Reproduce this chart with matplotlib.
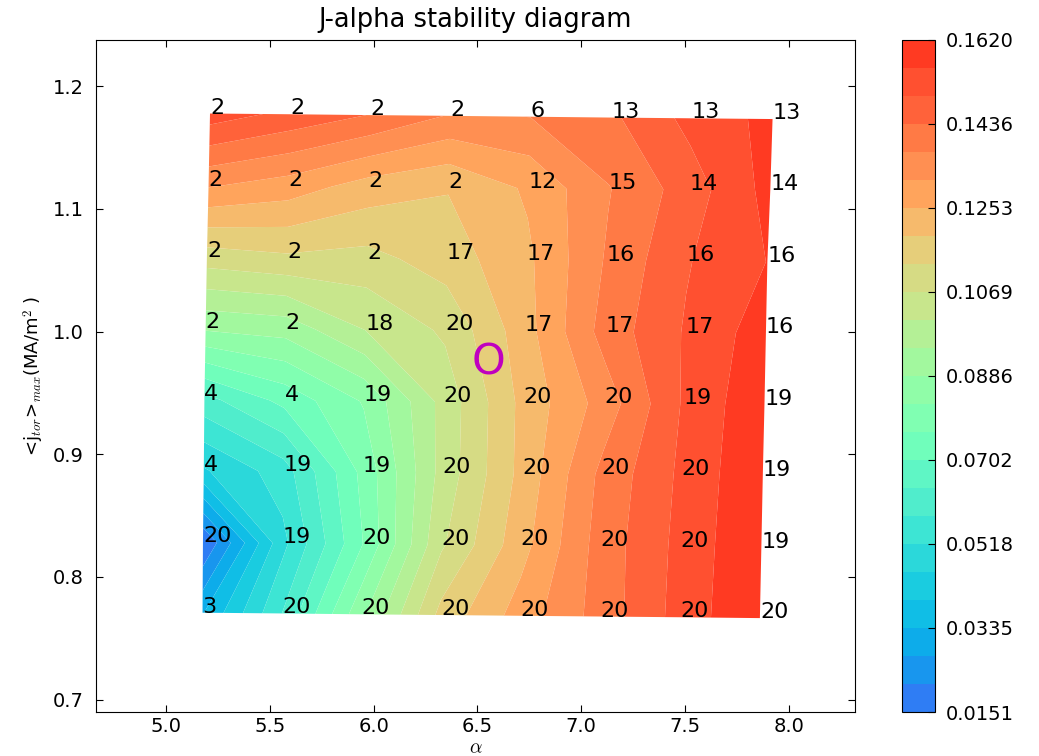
import numpy as np
import matplotlib
matplotlib.use("Agg")
import matplotlib.pyplot as plt
from matplotlib.colors import ListedColormap

# ---------------------------------------------------------
# data (8 x 8 scan, rows top -> bottom)
# ---------------------------------------------------------
alpha_grid = [
    [5.212, 5.599, 5.985, 6.370, 6.755, 7.145, 7.530, 7.921],
    [5.205, 5.590, 5.975, 6.360, 6.745, 7.133, 7.520, 7.910],
    [5.197, 5.583, 5.968, 6.353, 6.738, 7.123, 7.508, 7.896],
    [5.191, 5.576, 5.961, 6.346, 6.728, 7.116, 7.501, 7.889],
    [5.185, 5.571, 5.953, 6.338, 6.721, 7.109, 7.494, 7.882],
    [5.182, 5.565, 5.948, 6.331, 6.714, 7.099, 7.484, 7.874],
    [5.178, 5.561, 5.944, 6.326, 6.709, 7.092, 7.477, 7.867],
    [5.176, 5.559, 5.941, 6.324, 6.707, 7.090, 7.475, 7.860],
]

jtor_grid = [
    [1.1776, 1.1770, 1.1763, 1.1757, 1.1750, 1.1743, 1.1737, 1.1731],
    [1.1188, 1.1183, 1.1178, 1.1172, 1.1167, 1.1161, 1.1156, 1.1149],
    [1.0605, 1.0599, 1.0594, 1.0589, 1.0583, 1.0577, 1.0572, 1.0567],
    [1.0027, 1.0021, 1.0016, 1.0011, 1.0003, 0.9997, 0.9991, 0.9985],
    [0.9443, 0.9437, 0.9432, 0.9427, 0.9420, 0.9414, 0.9409, 0.9402],
    [0.8867, 0.8862, 0.8855, 0.8849, 0.8842, 0.8836, 0.8831, 0.8824],
    [0.8281, 0.8275, 0.8269, 0.8262, 0.8257, 0.8250, 0.8244, 0.8238],
    [0.7709, 0.7703, 0.7696, 0.7690, 0.7684, 0.7678, 0.7672, 0.7665],
]

growth_grid = [
    [0.1530, 0.1481, 0.1434, 0.1370, 0.1376, 0.1425, 0.1517, 0.1577],
    [0.1319, 0.1285, 0.1225, 0.1195, 0.1262, 0.1372, 0.1467, 0.1580],
    [0.1100, 0.1120, 0.1110, 0.1160, 0.1240, 0.1382, 0.1493, 0.1560],
    [0.0895, 0.0910, 0.1010, 0.1080, 0.1228, 0.1400, 0.1503, 0.1592],
    [0.0620, 0.0720, 0.0830, 0.1030, 0.1210, 0.1340, 0.1505, 0.1610],
    [0.0450, 0.0550, 0.0780, 0.1030, 0.1210, 0.1390, 0.1510, 0.1615],
    [0.0151, 0.0500, 0.0760, 0.1060, 0.1230, 0.1400, 0.1515, 0.1618],
    [0.0330, 0.0580, 0.0870, 0.1150, 0.1280, 0.1400, 0.1520, 0.1620],
]

mode_grid = [
    [2, 2, 2, 2, 6, 13, 13, 13],
    [2, 2, 2, 2, 12, 15, 14, 14],
    [2, 2, 2, 17, 17, 16, 16, 16],
    [2, 2, 18, 20, 17, 17, 17, 16],
    [4, 4, 19, 20, 20, 20, 19, 19],
    [4, 19, 19, 20, 20, 20, 20, 19],
    [20, 19, 20, 20, 20, 20, 20, 19],
    [3, 20, 20, 20, 20, 20, 20, 20],
]

# operating point
op_alpha = 6.555
op_jtor = 0.975

# band colours, bottom -> top of the colorbar
band_colors = [
    "#2f7df4", "#1896ee", "#0dacea", "#10bee6", "#1acce0", "#2bd8da",
    "#3de5d4", "#50edcc", "#5ff6c5", "#70febb", "#80ffb2", "#90fda8",
    "#a2f89e", "#b4f096", "#c8e68c", "#d6db84", "#e6ce7a", "#f6ba6c",
    "#ffa45c", "#ff8f52", "#ff7a45", "#ff623a", "#ff5030", "#ff3a22",
]

# ---------------------------------------------------------
# plot
# ---------------------------------------------------------
plt.rcParams["font.family"] = "DejaVu Sans"
plt.rcParams["mathtext.fontset"] = "cm"

X = np.array(alpha_grid)
Y = np.array(jtor_grid)
Z = np.array(growth_grid)

zmin, zmax = 0.0151, 0.1620
levels = np.linspace(zmin, zmax, 25)
cmap = ListedColormap(band_colors)

fig = plt.figure(figsize=(10.39, 7.56), dpi=100)
ax = fig.add_axes([0.0924, 0.0582, 0.7305, 0.8889])
cax = fig.add_axes([0.8681, 0.0582, 0.0318, 0.8889])

cs = ax.contourf(X, Y, Z, levels=levels, cmap=cmap, vmin=zmin, vmax=zmax,
                 antialiased=True)

for i in range(len(mode_grid)):
    for j in range(len(mode_grid[i])):
        ax.text(alpha_grid[i][j], jtor_grid[i][j], str(mode_grid[i][j]), fontsize=16)

ax.text(op_alpha, op_jtor, "O", color="m", fontsize=31, ha="center", va="center")

ax.set_xlim(4.663, 8.318)
ax.set_ylim(0.690, 1.2375)
ax.set_xticks([5.0, 5.5, 6.0, 6.5, 7.0, 7.5, 8.0])
ax.set_yticks([0.7, 0.8, 0.9, 1.0, 1.1, 1.2])
ax.tick_params(direction="in", top=True, right=True, length=5, labelsize=14)
ax.tick_params(axis="y", pad=9)
ax.set_title("J-alpha stability diagram", fontsize=18.5, pad=9)
ax.set_xlabel(r"$\alpha$", fontsize=14, labelpad=2)
ax.set_ylabel(r"<j$_{tor}$>$_{max}$(MA/m$^2$ )", fontsize=13, labelpad=5)

cb = fig.colorbar(cs, cax=cax, ticks=np.linspace(zmin, zmax, 9), format="%.4f")
cb.ax.tick_params(direction="in", length=5, labelsize=14, pad=8)

fig.savefig("out.png", dpi=100)
